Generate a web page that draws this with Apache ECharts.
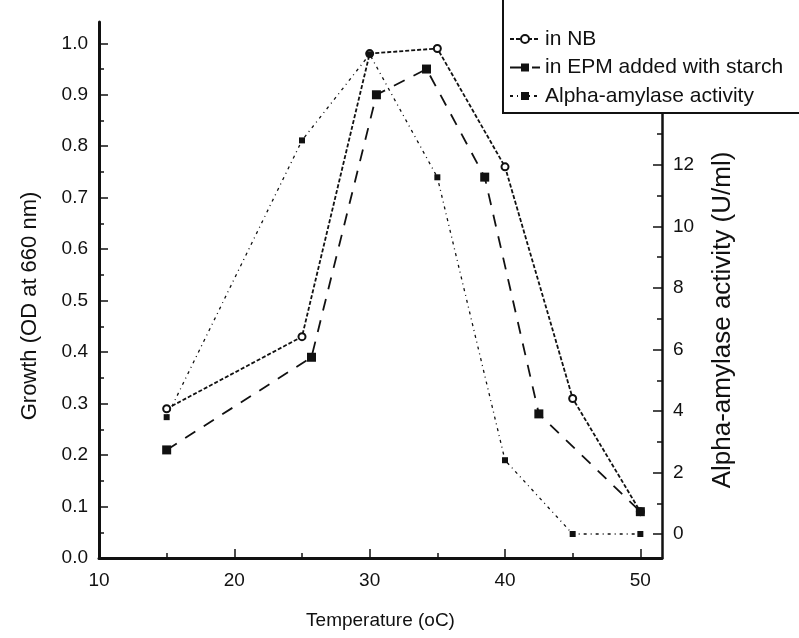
<!DOCTYPE html>
<html>
<head>
<meta charset="utf-8">
<script src="https://cdn.jsdelivr.net/npm/echarts@6/dist/echarts.min.js"></script>
<style>
  html, body { margin: 0; padding: 0; background: #fff; }
  #chart { width: 799px; height: 638px; }
</style>
</head>
<body>
<div id="chart"></div>
<script>
// Growth and enzyme activity versus incubation temperature
const temperatures = [15, 25, 30, 35, 40, 45, 50];
const growthNB = [0.29, 0.43, 0.98, 0.99, 0.76, 0.31, 0.09];
const epmTemperatures = [15, 25.7, 30.5, 34.2, 38.5, 42.5, 50];
const growthEPM = [0.21, 0.39, 0.90, 0.95, 0.74, 0.28, 0.09];
const amylaseActivity = [3.8, 12.8, 15.6, 11.6, 2.4, 0, 0];
const seriesNames = ['in NB', 'in EPM added with starch', 'Alpha-amylase activity'];

const xTicks = [10, 20, 30, 40, 50];
const xMinorTicks = [15, 25, 35, 45];
const growthTicks = [0, 0.1, 0.2, 0.3, 0.4, 0.5, 0.6, 0.7, 0.8, 0.9, 1.0];
const growthMinorTicks = [0.05, 0.15, 0.25, 0.35, 0.45, 0.55, 0.65, 0.75, 0.85, 0.95];
const activityTicks = [0, 2, 4, 6, 8, 10, 12];
const activityMinorTicks = [1, 3, 5, 7, 9, 11, 13];

const FONT = "'Liberation Sans', Arial, sans-serif";
const INK = '#111';

const X_RANGE = [10, 51.6];
const GROWTH_RANGE = [0, 1.0414];
const ACTIVITY_RANGE = [-0.78, 16.65];

const pair = (xs, ys) => xs.map((x, i) => [x, ys[i]]);

function mainAxis(extra) {
  return Object.assign({
    type: 'value',
    splitLine: { show: false },
    axisLine: { show: true, onZero: false, lineStyle: { color: INK, width: 3 } },
    axisTick: { show: true, inside: true, length: 9, lineStyle: { color: INK, width: 1.5 } },
    axisLabel: { color: INK, fontFamily: FONT, fontSize: 19 },
    nameTextStyle: { color: INK, fontFamily: FONT, fontSize: 19 },
    nameLocation: 'middle'
  }, extra);
}

function minorAxis(extra) {
  return Object.assign({
    type: 'value',
    splitLine: { show: false },
    axisLine: { show: false, onZero: false },
    axisLabel: { show: false },
    axisTick: { show: true, inside: true, length: 5, lineStyle: { color: INK, width: 1.5 } }
  }, extra);
}

const chart = echarts.init(document.getElementById('chart'), null, { renderer: 'canvas' });

chart.setOption({
  backgroundColor: '#fff',
  animation: false,
  grid: { left: 99, right: 137, top: 22, bottom: 80, containLabel: false },
  xAxis: [
    mainAxis({
      position: 'bottom',
      min: X_RANGE[0], max: X_RANGE[1],
      name: 'Temperature (oC)', nameGap: 53,
      axisTick: { show: true, inside: true, length: 9, customValues: xTicks, lineStyle: { color: INK, width: 1.5 } },
      axisLabel: { color: INK, fontFamily: FONT, fontSize: 19, margin: 13, customValues: xTicks, formatter: v => String(v) }
    }),
    minorAxis({
      position: 'bottom',
      min: X_RANGE[0], max: X_RANGE[1],
      axisTick: { show: true, inside: true, length: 5, customValues: xMinorTicks, lineStyle: { color: INK, width: 1.5 } }
    })
  ],
  yAxis: [
    mainAxis({
      position: 'left',
      min: GROWTH_RANGE[0], max: GROWTH_RANGE[1],
      name: 'Growth (OD at 660 nm)', nameGap: 58,
      nameTextStyle: { color: INK, fontFamily: FONT, fontSize: 22, padding: [0, 32, 0, 0] },
      axisTick: { show: true, inside: true, length: 9, customValues: growthTicks, lineStyle: { color: INK, width: 1.5 } },
      axisLabel: { color: INK, fontFamily: FONT, fontSize: 19, margin: 11, padding: [5, 0, 0, 0], customValues: growthTicks, formatter: v => v.toFixed(1) }
    }),
    mainAxis({
      position: 'right',
      min: ACTIVITY_RANGE[0], max: ACTIVITY_RANGE[1],
      name: 'Alpha-amylase activity (U/ml)', nameGap: 48, nameRotate: 90,
      nameTextStyle: { color: INK, fontFamily: FONT, fontSize: 26, padding: [0, 60, 0, 0] },
      axisLine: { show: true, onZero: false, lineStyle: { color: INK, width: 2.5 } },
      axisTick: { show: true, inside: true, length: 9, customValues: activityTicks, lineStyle: { color: INK, width: 1.5 } },
      axisLabel: { color: INK, fontFamily: FONT, fontSize: 19, margin: 11, customValues: activityTicks, formatter: v => String(v) }
    }),
    minorAxis({
      position: 'left',
      min: GROWTH_RANGE[0], max: GROWTH_RANGE[1],
      axisTick: { show: true, inside: true, length: 5, customValues: growthMinorTicks, lineStyle: { color: INK, width: 1.5 } }
    }),
    minorAxis({
      position: 'right',
      min: ACTIVITY_RANGE[0], max: ACTIVITY_RANGE[1],
      axisTick: { show: true, inside: true, length: 5, customValues: activityMinorTicks, lineStyle: { color: INK, width: 1.5 } }
    })
  ],
  legend: {
    orient: 'vertical',
    left: 504, top: 23,
    itemWidth: 30, itemHeight: 10, itemGap: 6.5,
    z: 120,
    textStyle: { color: INK, fontFamily: FONT, fontSize: 21, lineHeight: 22 },
    data: seriesNames
  },
  graphic: [{
    type: 'rect', z: 110,
    shape: { x: 503, y: -5, width: 320, height: 118 },
    style: { fill: '#fff', stroke: INK, lineWidth: 2 }
  }],
  series: [
    {
      name: seriesNames[0], type: 'line', xAxisIndex: 0, yAxisIndex: 0,
      data: pair(temperatures, growthNB),
      symbol: 'emptyCircle', symbolSize: 7,
      lineStyle: { color: INK, width: 1.8, type: [4, 2] },
      itemStyle: { color: INK, borderColor: INK, borderWidth: 1.5 },
      z: 3
    },
    {
      name: seriesNames[1], type: 'line', xAxisIndex: 0, yAxisIndex: 0,
      data: pair(epmTemperatures, growthEPM),
      symbol: 'rect', symbolSize: 9,
      lineStyle: { color: INK, width: 1.8, type: [12, 10] },
      itemStyle: { color: INK },
      z: 3
    },
    {
      name: seriesNames[2], type: 'line', xAxisIndex: 0, yAxisIndex: 1,
      data: pair(temperatures, amylaseActivity),
      symbol: 'rect', symbolSize: 6,
      lineStyle: { color: INK, width: 1.3, type: [3, 4, 1, 4] },
      itemStyle: { color: INK },
      z: 3
    }
  ]
});
</script>
</body>
</html>
